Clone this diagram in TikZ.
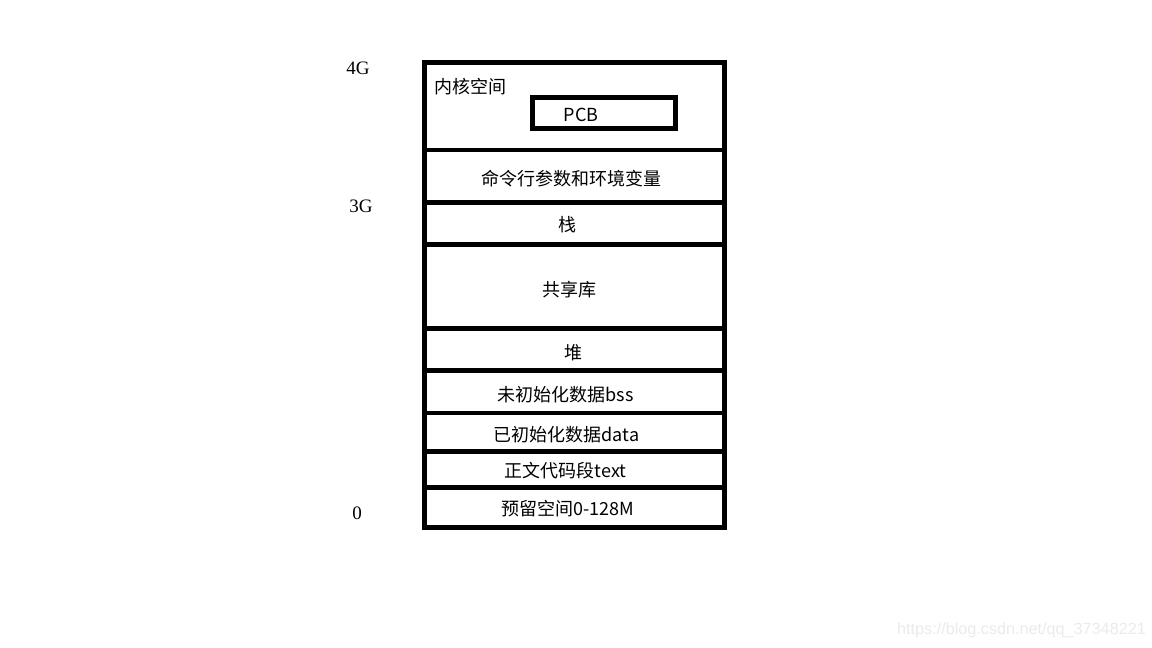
\documentclass[tikz,border=0pt]{standalone}
\usepackage{fontspec}
\setmainfont{Noto Sans CJK SC}
\newfontfamily\numfont{Liberation Serif}
\newfontfamily\wmfont{Liberation Sans}
\begin{document}
\begin{tikzpicture}[x=1pt,y=-1pt,
  seg/.style={draw=black, line width=4.5pt, minimum width=300pt, inner sep=0pt, outer sep=0pt, fill=none},
  txt/.style={font=\fontsize{18}{20}\selectfont, inner sep=0pt},
  addr/.style={font=\numfont\fontsize{19}{22}\selectfont, inner sep=0pt}]
\useasboundingbox (0,0) rectangle (1152,648);
\fill[white] (0,0) rectangle (1152,648);

% memory segments (top to bottom)
\node[seg, minimum height=87.5pt] (kernel) at (574.5,106.25) {};
\node[seg, minimum height=52.5pt, label={[txt,xshift=-3.5pt,yshift=-2.5pt]center:命令行参数和环境变量}] (args) at (574.5,176.25) {};
\node[seg, minimum height=42pt, label={[txt,xshift=-7pt,yshift=-1pt]center:栈}] (stack) at (574.5,223.5) {};
\node[seg, minimum height=84pt, label={[txt,xshift=-5pt,yshift=-3pt]center:共享库}] (shlib) at (574.5,286.5) {};
\node[seg, minimum height=42pt, label={[txt,xshift=-1pt,yshift=-3pt]center:堆}] (heap) at (574.5,349.5) {};
\node[seg, minimum height=42.5pt, label={[txt,xshift=-9pt,yshift=-3pt]center:未初始化数据bss}] (bss) at (574.5,391.75) {};
\node[seg, minimum height=38.5pt, label={[txt,xshift=-8pt,yshift=-2.5pt]center:已初始化数据data}] (data) at (574.5,432.25) {};
\node[seg, minimum height=36pt, label={[txt,xshift=-9pt,yshift=-1pt]center:正文代码段text}] (text) at (574.5,469.5) {};
\node[seg, minimum height=40pt, label={[txt,xshift=-7pt,yshift=-1.5pt]center:预留空间0-128M}] (reserve) at (574.5,507.5) {};

% kernel contents
\node[txt, anchor=west] (kname) at (434,87) {内核空间};
\node[draw=black, line width=4.5pt, minimum width=143pt, minimum height=31pt, inner sep=0pt] (pcb) at (604,113) {};
\node[txt] (pcbtxt) at (581,115) {PCB};

% address labels
\node[addr] (a4g) at (358,68) {4G};
\node[addr] (a3g) at (361,206) {3G};
\node[addr] (a0) at (357,513) {0};

% watermark
\node[font=\wmfont\fontsize{16.2}{18}\selectfont, text=black!8, anchor=east, inner sep=0pt] (wm) at (1146,630) {https://blog.csdn.net/qq\_37348221};
\end{tikzpicture}
\end{document}
